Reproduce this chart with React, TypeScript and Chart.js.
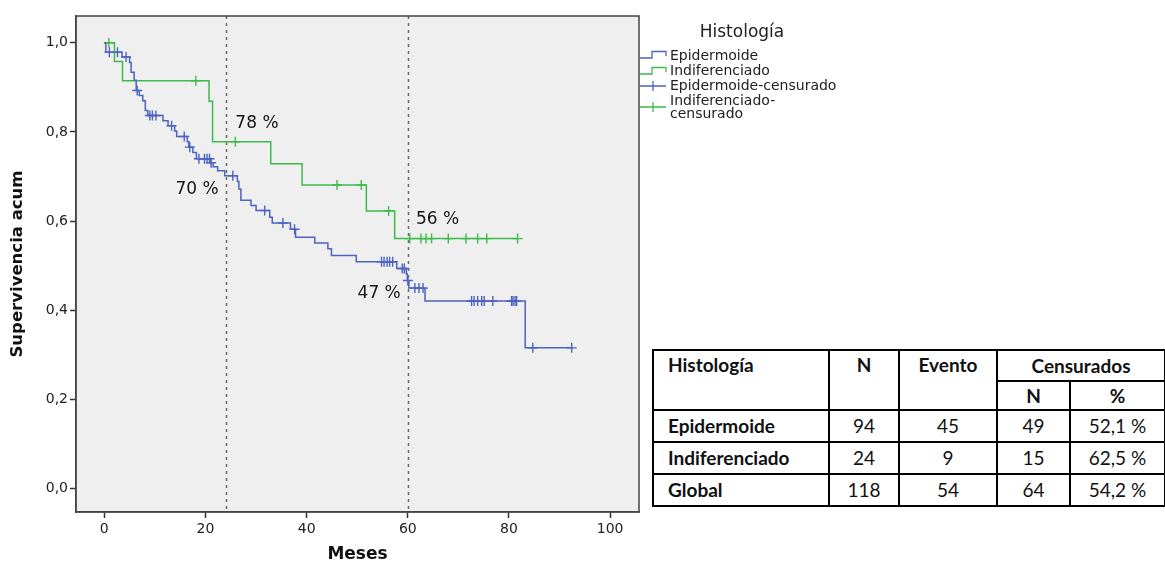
import React, { useEffect, useRef } from 'react';
import { Chart, registerables } from 'chart.js';

Chart.register(...registerables);

// ---------- data ----------
const xTicks = [0, 20, 40, 60, 80, 100];
const yTicks = [0, 0.2, 0.4, 0.6, 0.8, 1.0];
const referenceMonths = [24, 60];

// Epidermoide: Kaplan-Meier steps (time in months, survival after the drop)
const epiStepTimes = [0, 0.3, 3.5, 5.0, 5.3, 5.9, 6.3, 6.9, 7.6, 8.1, 8.6, 11.6, 12.6, 13.9, 14.3, 16.4, 16.7, 17.5, 18.2, 21.0, 21.5, 22.4, 23.8, 26.3, 26.6, 27.0, 29.0, 30.0, 32.7, 33.2, 36.8, 37.8, 41.6, 44.2, 44.9, 49.8, 57.8, 59.7, 59.9, 60.2, 63.4, 83.2];
const epiStepSurvival = [1.0, 0.979, 0.968, 0.956, 0.934, 0.916, 0.893, 0.882, 0.870, 0.848, 0.837, 0.825, 0.814, 0.802, 0.790, 0.778, 0.766, 0.754, 0.740, 0.731, 0.722, 0.713, 0.702, 0.689, 0.672, 0.647, 0.635, 0.624, 0.609, 0.596, 0.582, 0.564, 0.551, 0.538, 0.523, 0.509, 0.494, 0.482, 0.467, 0.450, 0.421, 0.316];
const epiEndTime = 92.4;
const epiCensorTimes = [1.0, 2.6, 4.3, 6.5, 9.0, 9.5, 10.2, 13.3, 15.8, 16.9, 18.7, 19.8, 20.3, 20.8, 21.1, 25.4, 31.7, 35.3, 37.6, 54.8, 55.3, 55.9, 56.4, 57.0, 58.9, 59.3, 60.0, 61.4, 62.2, 63.0, 72.6, 73.1, 73.8, 74.6, 75.1, 76.8, 80.5, 80.8, 81.2, 81.5, 84.7, 92.4];

// Indiferenciado
const indStepTimes = [0, 2.0, 3.6, 20.7, 21.4, 32.9, 39.1, 51.8, 57.4];
const indStepSurvival = [1.0, 0.958, 0.915, 0.869, 0.778, 0.729, 0.681, 0.623, 0.561];
const indEndTime = 81.7;
const indCensorTimes = [0.9, 18.1, 25.9, 46.0, 50.8, 56.2, 60.4, 62.6, 63.6, 64.7, 68.0, 71.5, 73.8, 75.6, 81.7];

const annotationTexts = ['78 %', '70 %', '56 %', '47 %'];
const legendTitle = 'Histología';
const legendLabels = ['Epidermoide', 'Indiferenciado', 'Epidermoide-censurado', 'Indiferenciado-censurado'];
const xAxisTitle = 'Meses';
const yAxisTitle = 'Supervivencia acum';

const tableHeaders = ['Histología', 'N', 'Evento', 'Censurados'];
const tableSubHeaders = ['N', '%'];
const tableRows = [
  ['Epidermoide', '94', '45', '49', '52,1 %'],
  ['Indiferenciado', '24', '9', '15', '62,5 %'],
  ['Global', '118', '54', '64', '54,2 %'],
];

// ---------- helpers ----------
const BLUE = '#4d63c0';
const GREEN = '#3dba4a';

function survivalAt(times: number[], surv: number[], t: number) {
  let v = surv[0];
  for (let i = 0; i < times.length; i++) if (times[i] <= t) v = surv[i];
  return v;
}
function stepPoints(times: number[], surv: number[], end: number) {
  const pts = times.map((t, i) => ({ x: t, y: surv[i] }));
  pts.push({ x: end, y: surv[surv.length - 1] });
  return pts;
}
function censorPoints(times: number[], surv: number[], cens: number[]) {
  return cens.map((t) => ({ x: t, y: survivalAt(times, surv, t) }));
}

const FONT = '"DejaVu Sans", Verdana, sans-serif';

const decorPlugin = {
  id: 'decor',
  beforeDraw(chart: any) {
    const { ctx, chartArea: a } = chart;
    ctx.save();
    ctx.fillStyle = '#efefef';
    ctx.fillRect(a.left, a.top, a.right - a.left, a.bottom - a.top);
    ctx.restore();
  },
  beforeDatasetsDraw(chart: any) {
    const { ctx, chartArea: a, scales } = chart;
    ctx.save();
    ctx.strokeStyle = '#6a6a6a';
    ctx.lineWidth = 1.5;
    ctx.setLineDash([3, 4]);
    referenceMonths.forEach((m) => {
      const x = Math.round(scales.x.getPixelForValue(m)) + 0.5;
      ctx.beginPath();
      ctx.moveTo(x, a.top);
      ctx.lineTo(x, a.bottom);
      ctx.stroke();
    });
    ctx.restore();
  },
  afterDraw(chart: any) {
    const { ctx, chartArea: a, scales } = chart;
    const xs = scales.x;
    const ys = scales.y;
    ctx.save();
    // frame
    ctx.strokeStyle = '#444';
    ctx.lineWidth = 1.5;
    ctx.strokeRect(a.left, a.top, a.right - a.left, a.bottom - a.top);

    // percentage annotations
    ctx.fillStyle = '#151515';
    ctx.font = `17px ${FONT}`;
    ctx.textBaseline = 'middle';
    const ann = [
      { t: 25.9, v: 0.819, align: 'left' },
      { t: 22.6, v: 0.671, align: 'right' },
      { t: 61.6, v: 0.604, align: 'left' },
      { t: 58.6, v: 0.438, align: 'right' },
    ];
    ann.forEach((p, i) => {
      ctx.textAlign = p.align;
      ctx.fillText(annotationTexts[i], xs.getPixelForValue(p.t), ys.getPixelForValue(p.v));
    });

    // axis titles
    ctx.fillStyle = '#111';
    ctx.font = `bold 17px ${FONT}`;
    ctx.textAlign = 'center';
    ctx.fillText(xAxisTitle, (a.left + a.right) / 2, 555);
    ctx.save();
    ctx.translate(18, (a.top + a.bottom) / 2);
    ctx.rotate(-Math.PI / 2);
    ctx.font = `bold 16.5px ${FONT}`;
    ctx.fillText(yAxisTitle, 0, 0);
    ctx.restore();

    // legend
    const lx = a.right + 1;
    ctx.fillStyle = '#222';
    ctx.font = `17px ${FONT}`;
    ctx.textAlign = 'center';
    ctx.fillText(legendTitle, 742, 33);
    ctx.font = `14px ${FONT}`;
    ctx.textAlign = 'left';
    ctx.lineWidth = 1.3;
    const stepIcon = (y: number, color: string) => {
      ctx.strokeStyle = color;
      ctx.beginPath();
      ctx.moveTo(lx, y + 3);
      ctx.lineTo(lx + 12, y + 3);
      ctx.lineTo(lx + 12, y - 3.5);
      ctx.lineTo(lx + 26, y - 3.5);
      ctx.lineTo(lx + 26, y + 1);
      ctx.stroke();
    };
    const crossIcon = (y: number, color: string) => {
      ctx.strokeStyle = color;
      ctx.beginPath();
      ctx.moveTo(lx, y);
      ctx.lineTo(lx + 26, y);
      ctx.moveTo(lx + 13, y - 5);
      ctx.lineTo(lx + 13, y + 5);
      ctx.stroke();
    };
    const tx = 670;
    stepIcon(55, BLUE);
    ctx.fillText(legendLabels[0], tx, 56);
    stepIcon(71, GREEN);
    ctx.fillText(legendLabels[1], tx, 71);
    crossIcon(86, BLUE);
    ctx.fillText(legendLabels[2], tx, 86);
    crossIcon(107, GREEN);
    const parts = legendLabels[3].split('-');
    ctx.fillText(parts[0] + '-', tx, 101);
    ctx.fillText(parts[1], tx, 114);
    ctx.restore();
  },
};

export default function App() {
  const ref = useRef<HTMLCanvasElement>(null);

  useEffect(() => {
    if (!ref.current) return;
    Chart.defaults.font.family = FONT;
    const chart = new Chart(ref.current, {
      type: 'line',
      data: {
        datasets: [
          {
            label: legendLabels[0],
            data: stepPoints(epiStepTimes, epiStepSurvival, epiEndTime),
            borderColor: BLUE,
            borderWidth: 1.5,
            pointRadius: 0,
            stepped: 'before',
            fill: false,
          },
          {
            label: legendLabels[1],
            data: stepPoints(indStepTimes, indStepSurvival, indEndTime),
            borderColor: GREEN,
            borderWidth: 1.5,
            pointRadius: 0,
            stepped: 'before',
            fill: false,
          },
          {
            label: legendLabels[2],
            data: censorPoints(epiStepTimes, epiStepSurvival, epiCensorTimes),
            showLine: false,
            pointStyle: 'cross',
            pointRadius: 5,
            pointBorderWidth: 1.4,
            pointBorderColor: BLUE,
            borderColor: BLUE,
          },
          {
            label: legendLabels[3],
            data: censorPoints(indStepTimes, indStepSurvival, indCensorTimes),
            showLine: false,
            pointStyle: 'cross',
            pointRadius: 5,
            pointBorderWidth: 1.4,
            pointBorderColor: GREEN,
            borderColor: GREEN,
          },
        ],
      },
      options: {
        responsive: false,
        animation: false,
        devicePixelRatio: 1,
        layout: { padding: { top: 16, right: 526, left: 0, bottom: 0 } },
        plugins: { legend: { display: false }, tooltip: { enabled: false }, title: { display: false } },
        scales: {
          x: {
            type: 'linear',
            min: -5.6,
            max: 105.7,
            afterBuildTicks: (s: any) => {
              s.ticks = xTicks.map((v) => ({ value: v }));
            },
            afterFit: (s: any) => {
              s.height = 53;
            },
            ticks: {
              color: '#222',
              font: { size: 14, family: FONT },
              padding: 3,
              maxRotation: 0,
              autoSkip: false,
              callback: (v: any) => String(v),
            },
            grid: { drawOnChartArea: false, drawTicks: true, tickLength: 6, tickColor: '#333', tickWidth: 1.5 },
            border: { display: true, color: '#444', width: 1.5 },
          },
          y: {
            type: 'linear',
            min: -0.052,
            max: 1.06,
            afterBuildTicks: (s: any) => {
              s.ticks = yTicks.map((v) => ({ value: v }));
            },
            afterFit: (s: any) => {
              s.width = 76;
            },
            ticks: {
              color: '#222',
              font: { size: 14, family: FONT },
              padding: 2,
              autoSkip: false,
              callback: (v: any) => Number(v).toFixed(1).replace('.', ','),
            },
            grid: { drawOnChartArea: false, drawTicks: true, tickLength: 6, tickColor: '#333', tickWidth: 1.5 },
            border: { display: true, color: '#444', width: 1.5 },
          },
        },
      },
      plugins: [decorPlugin],
    } as any);
    return () => chart.destroy();
  }, []);

  const cell: React.CSSProperties = {
    border: '2px solid #000',
    padding: 0,
    textAlign: 'center',
    verticalAlign: 'middle',
    lineHeight: '26px',
  };
  const head: React.CSSProperties = { ...cell, fontWeight: 700 };
  const first: React.CSSProperties = { ...cell, textAlign: 'left', paddingLeft: 14, fontWeight: 700 };

  return (
    <div style={{ position: 'absolute', left: 0, top: 0, width: 1165, height: 565, background: '#fff', overflow: 'hidden' }}>
      <canvas ref={ref} width={1165} height={565} style={{ display: 'block', width: 1165, height: 565 }} />
      <table
        style={{
          position: 'absolute',
          left: 652,
          top: 349,
          width: 512,
          height: 158,
          borderCollapse: 'collapse',
          border: '2.5px solid #000',
          fontFamily: 'Lato, "Open Sans", sans-serif',
          fontSize: 19,
          color: '#111',
          tableLayout: 'fixed',
          background: '#fff',
        }}
      >
        <colgroup>
          <col style={{ width: 176 }} />
          <col style={{ width: 70 }} />
          <col style={{ width: 98 }} />
          <col style={{ width: 73 }} />
          <col style={{ width: 95 }} />
        </colgroup>
        <tbody>
          <tr style={{ height: 31 }}>
            <td rowSpan={2} style={{ ...first, verticalAlign: 'top', lineHeight: '28px' }}>{tableHeaders[0]}</td>
            <td rowSpan={2} style={{ ...head, verticalAlign: 'top', lineHeight: '28px' }}>{tableHeaders[1]}</td>
            <td rowSpan={2} style={{ ...head, verticalAlign: 'top', lineHeight: '28px' }}>{tableHeaders[2]}</td>
            <td colSpan={2} style={head}>{tableHeaders[3]}</td>
          </tr>
          <tr style={{ height: 29 }}>
            <td style={head}>{tableSubHeaders[0]}</td>
            <td style={head}>{tableSubHeaders[1]}</td>
          </tr>
          {tableRows.map((r, i) => (
            <tr key={i} style={{ height: 32 }}>
              <td style={first}>{r[0]}</td>
              <td style={cell}>{r[1]}</td>
              <td style={cell}>{r[2]}</td>
              <td style={cell}>{r[3]}</td>
              <td style={cell}>{r[4]}</td>
            </tr>
          ))}
        </tbody>
      </table>
    </div>
  );
}
